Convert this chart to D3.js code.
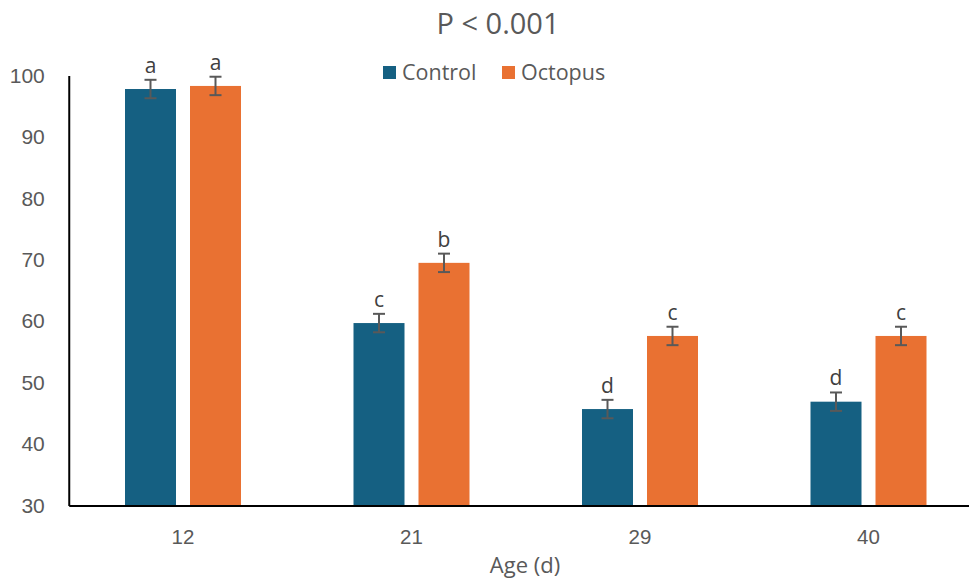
<!DOCTYPE html>
<html>
<head>
<meta charset="utf-8">
<script src="https://cdn.jsdelivr.net/npm/d3@7"></script>
<style>
  html, body { margin: 0; padding: 0; background: #fff; }
  svg { display: block; font-family: "Open Sans", "Noto Sans", sans-serif; }
</style>
</head>
<body>
<svg id="chart" width="969" height="581"></svg>
<script>
// Age groups (days) and the two series
const ages = ["12", "21", "29", "40"];
const seriesNames = ["Control", "Octopus"];
const controlValues = [97.8, 59.7, 45.7, 46.9];
const octopusValues = [98.3, 69.5, 57.6, 57.6];
const controlErrors = [1.5, 1.5, 1.5, 1.5];
const octopusErrors = [1.5, 1.5, 1.5, 1.5];
const controlLetters = ["a", "c", "d", "d"];
const octopusLetters = ["a", "b", "c", "c"];
const yTicks = [30, 40, 50, 60, 70, 80, 90, 100];
const titleText = "P < 0.001";
const xAxisTitle = "Age (d)";

const colors = { Control: "#156082", Octopus: "#E97132" };
const textColor = "#595959";

const svg = d3.select("#chart");

const x = d3.scaleBand().domain(ages).range([68.75, 982.75]).paddingInner(0).paddingOuter(0);
const y = d3.scaleLinear().domain([30, 100]).range([505.5, 75.5]);

const barW = 51, gap = 14;

const rows = [];
ages.forEach((a, i) => {
  rows.push({ age: a, series: "Control", value: controlValues[i], err: controlErrors[i], letter: controlLetters[i], offset: -gap / 2 - barW });
  rows.push({ age: a, series: "Octopus", value: octopusValues[i], err: octopusErrors[i], letter: octopusLetters[i], offset: gap / 2 });
});
const cx = d => x(d.age) + x.bandwidth() / 2 + d.offset;

// Bars
svg.append("g").selectAll("rect").data(rows).join("rect")
  .attr("x", d => cx(d))
  .attr("y", d => y(d.value))
  .attr("width", barW)
  .attr("height", d => y(30) - y(d.value))
  .attr("fill", d => colors[d.series]);

// Error bars
const eb = svg.append("g").attr("stroke", "#595959").attr("stroke-width", 2);
rows.forEach(d => {
  const mx = cx(d) + barW / 2;
  eb.append("line").attr("x1", mx).attr("x2", mx).attr("y1", y(d.value + d.err)).attr("y2", y(d.value - d.err));
  eb.append("line").attr("x1", mx - 6).attr("x2", mx + 6).attr("y1", y(d.value + d.err)).attr("y2", y(d.value + d.err));
  eb.append("line").attr("x1", mx - 6).attr("x2", mx + 6).attr("y1", y(d.value - d.err)).attr("y2", y(d.value - d.err));
});

// Significance letters
svg.append("g").selectAll("text").data(rows).join("text")
  .attr("x", d => cx(d) + barW / 2)
  .attr("y", d => y(d.value + d.err) - 7)
  .attr("text-anchor", "middle")
  .attr("font-size", 21)
  .attr("fill", "#404040")
  .text(d => d.letter);

// Y axis
const yAxis = svg.append("g").attr("transform", "translate(68.75,0)")
  .call(d3.axisLeft(y).tickValues(yTicks).tickSize(0).tickPadding(24));
yAxis.select(".domain").attr("stroke", "#000").attr("stroke-width", 2);
yAxis.selectAll("text").attr("font-size", 21).attr("fill", textColor).attr("font-family", "inherit");

// X axis
const xAxis = svg.append("g").attr("transform", "translate(0,505.5)")
  .call(d3.axisBottom(x).tickSize(0).tickPadding(24));
xAxis.select(".domain").attr("stroke", "#000").attr("stroke-width", 2);
xAxis.selectAll("text").attr("font-size", 20.5).attr("fill", textColor).attr("font-family", "inherit");

// Title
svg.append("text").attr("x", 498).attr("y", 34).attr("text-anchor", "middle")
  .attr("font-size", 29).attr("fill", textColor).text(titleText);

// X axis title
svg.append("text").attr("x", 525).attr("y", 573).attr("text-anchor", "middle")
  .attr("font-size", 22).attr("fill", textColor).text(xAxisTitle);

// Legend
const legendX = [383, 502];
const lg = svg.append("g");
seriesNames.forEach((s, i) => {
  lg.append("rect").attr("x", legendX[i]).attr("y", 66).attr("width", 13).attr("height", 13).attr("fill", colors[s]);
  lg.append("text").attr("x", legendX[i] + 19).attr("y", 80).attr("font-size", 21.5).attr("fill", textColor).text(s);
});
</script>
</body>
</html>
